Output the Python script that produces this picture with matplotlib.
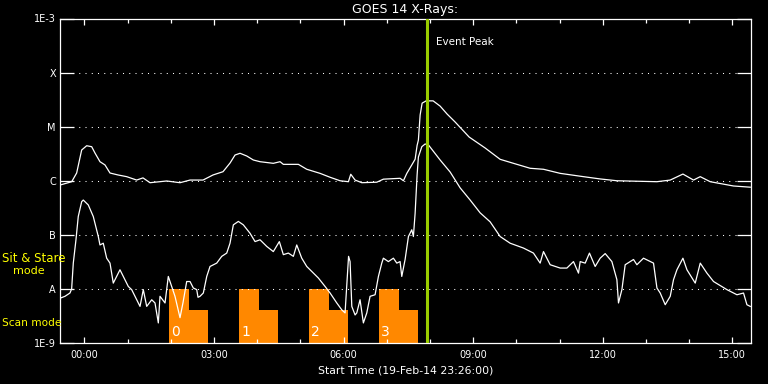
import matplotlib
matplotlib.use('Agg')
import matplotlib.pyplot as plt
from matplotlib.ticker import FixedLocator, NullLocator

# ---------------- data (time in hours from 2014-02-20 00:00 UT) ----------------
long_t = [-0.551, -0.296, -0.181, -0.065, 0.051, 0.167, 0.243, 0.359, 0.475, 0.591,
          0.776, 0.978, 1.209, 1.355, 1.517, 1.904, 2.212, 2.444, 2.745, 2.977,
          3.208, 3.371, 3.486, 3.602, 3.757, 3.910, 4.065, 4.373, 4.529, 4.605,
          4.953, 5.147, 5.455, 5.687, 5.918, 6.111, 6.166, 6.266, 6.421, 6.769,
          6.921, 7.308, 7.385, 7.464, 7.579, 7.656, 7.702, 7.732, 7.772, 7.818,
          7.911, 8.073, 8.235, 8.397, 8.582, 8.907, 9.278, 9.625, 9.933, 10.320, 10.628, 11.015,
          11.554, 11.941, 12.328, 13.255, 13.563, 13.857, 14.102, 14.258, 14.489,
          15.029, 15.416]
long_flux = [8.4e-7, 9.6e-7, 1.39e-6, 3.7e-6, 4.44e-6, 4.26e-6, 3.26e-6, 2.25e-6, 1.96e-6, 1.39e-6,
             1.28e-6, 1.19e-6, 1.03e-6, 1.13e-6, 9.2e-7, 9.9e-7, 9.2e-7, 1.03e-6, 1.03e-6, 1.28e-6,
             1.47e-6, 2.13e-6, 2.99e-6, 3.22e-6, 2.87e-6, 2.42e-6, 2.25e-6, 2.10e-6, 2.25e-6, 2.01e-6,
             2.01e-6, 1.63e-6, 1.37e-6, 1.16e-6, 1.0e-6, 9.6e-7, 1.32e-6, 1.03e-6, 9.2e-7, 9.4e-7,
             1.07e-6, 1.11e-6, 1.0e-6, 1.37e-6, 1.96e-6, 2.5e-6, 4.5e-6, 5.66e-6, 1.64e-5, 2.72e-5,
             3.0e-5, 3.0e-5, 2.40e-5, 1.71e-5, 1.22e-5, 6.43e-6, 4.03e-6, 2.49e-6, 2.10e-6, 1.70e-6, 1.63e-6, 1.37e-6,
             1.19e-6, 1.08e-6, 1.0e-6, 9.6e-7, 1.03e-6, 1.33e-6, 1.03e-6, 1.19e-6, 9.6e-7,
             8.0e-7, 7.6e-7]

short_t = [-0.551, -0.452, -0.336, -0.297, -0.259, -0.197, -0.144, -0.065, -0.028, 0.088,
           0.204, 0.320, 0.359, 0.435, 0.514, 0.591, 0.667, 0.783, 0.822, 0.938,
           1.015, 1.093, 1.170, 1.286, 1.362, 1.441, 1.557, 1.633, 1.710, 1.749,
           1.865, 1.941, 2.020, 2.096, 2.212, 2.282, 2.367, 2.444, 2.520, 2.599,
           2.629, 2.675, 2.752, 2.831, 2.907, 3.062, 3.178, 3.294, 3.370, 3.447,
           3.563, 3.678, 3.833, 3.950, 4.065, 4.221, 4.373, 4.512, 4.605, 4.721,
           4.837, 4.915, 5.031, 5.147, 5.300, 5.416, 5.571, 5.687, 5.842, 5.958,
           6.034, 6.115, 6.150, 6.190, 6.266, 6.305, 6.381, 6.458, 6.537, 6.613,
           6.729, 6.806, 6.884, 6.921, 7.037, 7.153, 7.232, 7.308, 7.347, 7.424,
           7.501, 7.579, 7.616, 7.656, 7.702, 7.732, 7.811, 7.887, 7.964, 8.235,
           8.467, 8.698, 8.930, 9.162, 9.393, 9.625, 9.856, 10.164, 10.396, 10.551, 10.628, 10.783, 11.015,
           11.170, 11.323, 11.439, 11.478, 11.594, 11.693, 11.825, 11.941, 12.057, 12.212,
           12.328, 12.365, 12.444, 12.520, 12.713, 12.791, 12.944, 13.176, 13.255, 13.331,
           13.447, 13.563, 13.639, 13.718, 13.857, 13.950, 14.142, 14.258, 14.413, 14.566,
           14.876, 15.108, 15.260, 15.339, 15.416]
short_flux = [6.8e-9, 7.3e-9, 8.4e-9, 1.0e-8, 3.0e-8, 8.1e-8, 2.18e-7, 4.1e-7, 4.4e-7, 3.57e-7,
              2.18e-7, 9.3e-8, 6.5e-8, 7.0e-8, 3.7e-8, 3.0e-8, 1.28e-8, 1.96e-8, 2.26e-8, 1.48e-8,
              1.11e-8, 9.7e-9, 7.3e-9, 4.75e-9, 9.7e-9, 4.75e-9, 6.3e-9, 5.5e-9, 2.35e-9, 7.3e-9,
              5.5e-9, 1.70e-8, 1.11e-8, 7.3e-9, 2.94e-9, 5.6e-9, 1.37e-8, 1.37e-8, 1.04e-8, 9.7e-9,
              7.0e-9, 7.3e-9, 8.4e-9, 1.70e-8, 2.6e-8, 3.0e-8, 4.0e-8, 4.6e-8, 7.0e-8, 1.53e-7,
              1.77e-7, 1.53e-7, 1.07e-7, 7.5e-8, 8.1e-8, 6.1e-8, 4.9e-8, 7.5e-8, 4.3e-8, 4.6e-8,
              4.0e-8, 6.5e-8, 3.7e-8, 2.6e-8, 1.96e-8, 1.59e-8, 1.11e-8, 8.4e-9, 5.5e-9, 4.1e-9,
              3.6e-9, 4.0e-8, 3.2e-8, 4.75e-9, 3.3e-9, 3.6e-9, 6.3e-9, 2.35e-9, 3.6e-9, 7.3e-9,
              7.8e-9, 1.70e-8, 3.0e-8, 3.7e-8, 3.2e-8, 3.7e-8, 3.0e-8, 3.2e-8, 1.70e-8, 3.5e-8,
              9.3e-8, 1.24e-7, 9.3e-8, 2.5e-7, 1.28e-6, 2.75e-6, 4.26e-6, 4.78e-6, 4.6e-6, 2.42e-6,
              1.45e-6, 7.4e-7, 4.4e-7, 2.55e-7, 1.74e-7, 9.3e-8, 7.0e-8, 5.7e-8, 4.6e-8, 3.0e-8, 4.9e-8, 2.8e-8, 2.43e-8,
              2.43e-8, 3.2e-8, 1.96e-8, 3.2e-8, 3.0e-8, 4.6e-8, 2.6e-8, 3.7e-8, 4.5e-8, 3.2e-8,
              1.48e-8, 5.5e-9, 9.7e-9, 2.8e-8, 3.5e-8, 2.8e-8, 3.7e-8, 3.0e-8, 1.04e-8, 8.4e-9,
              5.1e-9, 7.3e-9, 1.48e-8, 2.26e-8, 3.7e-8, 2.26e-8, 1.28e-8, 3.0e-8, 1.96e-8, 1.37e-8,
              9.7e-9, 7.8e-9, 8.4e-9, 5.1e-9, 4.75e-9]

start_hour = -34.0 / 60.0   # 23:26 on 19-Feb
end_hour = start_hour + 16.0
event_peak = 7.93

scan_start = [1.96, 3.58, 5.20, 6.82]
scan_labels = ['0', '1', '2', '3']
scan_tall_dur = 0.46
scan_short_dur = 0.44
scan_tall_top = 1.0e-8
scan_short_top = 4.1e-9

class_levels = [1e-9, 1e-8, 1e-7, 1e-6, 1e-5, 1e-4, 1e-3]
class_labels = ['1E-9', 'A', 'B', 'C', 'M', 'X', '1E-3']
grid_levels = [1e-8, 1e-7, 1e-6, 1e-5, 1e-4]
xtick_hours = [0, 3, 6, 9, 12, 15]
xtick_labels = ['00:00', '03:00', '06:00', '09:00', '12:00', '15:00']
minor_hours = [h for h in range(0, 16) if h % 3 != 0]

# ---------------- figure ----------------
fig = plt.figure(figsize=(7.68, 3.84), dpi=100, facecolor='black')
ax = fig.add_axes([60 / 768, 41 / 384, 691 / 768, 324.5 / 384], facecolor='black')
ax.set_yscale('log')
ax.set_xlim(start_hour, end_hour)
ax.set_ylim(1e-9, 1e-3)

orange = '#ff8800'
ax.bar(scan_start, [scan_tall_top - 1e-9] * len(scan_start), width=scan_tall_dur,
       bottom=1e-9, align='edge', color=orange, linewidth=0, zorder=1)
ax.bar([s + scan_tall_dur for s in scan_start], [scan_short_top - 1e-9] * len(scan_start),
       width=scan_short_dur, bottom=1e-9, align='edge', color=orange, linewidth=0, zorder=1)
for s, lbl in zip(scan_start, scan_labels):
    ax.text(s + 0.05, 1.6e-9, lbl, color='white', fontsize=10, ha='left', va='center', zorder=2)

for lev in grid_levels:
    ax.axhline(lev, color='white', lw=0.75, linestyle=(0, (1, 5)), zorder=1.5)

ax.plot(long_t, long_flux, color='white', lw=0.9, zorder=3)
ax.plot(short_t, short_flux, color='white', lw=0.9, zorder=3)

ax.axvline(event_peak, color='#9acd00', lw=2.2, zorder=4)
ax.text(event_peak + 0.2, 1.02e-3 / 10 ** 0.45, 'Event Peak', color='white', fontsize=7.5,
        ha='left', va='center', zorder=5)

# axes styling
for sp in ax.spines.values():
    sp.set_color('white')
    sp.set_linewidth(0.9)

ax.yaxis.set_major_locator(FixedLocator(class_levels))
ax.yaxis.set_minor_locator(NullLocator())
ax.set_yticklabels(class_labels)
ax.tick_params(axis='y', which='major', direction='in', length=10, width=0.9,
               colors='white', left=True, right=True, labelsize=7, pad=3)

ax.xaxis.set_major_locator(FixedLocator(xtick_hours))
ax.xaxis.set_minor_locator(FixedLocator(minor_hours))
ax.set_xticklabels(xtick_labels)
ax.tick_params(axis='x', which='major', direction='in', length=4.3, width=0.9,
               colors='white', bottom=True, top=True, labelsize=7, pad=5)
ax.tick_params(axis='x', which='minor', direction='in', length=2.9, width=0.9,
               colors='white', bottom=True, top=True)

ax.set_title('GOES 14 X-Rays:', color='white', fontsize=9, pad=4)
ax.set_xlabel('Start Time (19-Feb-14 23:26:00)', color='white', fontsize=7.8, labelpad=4)

yellow = '#ffff00'
fig.text(2 / 768, 1 - 259 / 384, 'Sit & Stare', color=yellow, fontsize=8.5, ha='left', va='center')
fig.text(13 / 768, 1 - 271 / 384, 'mode', color=yellow, fontsize=8, ha='left', va='center')
fig.text(2 / 768, 1 - 323 / 384, 'Scan mode', color=yellow, fontsize=7.6, ha='left', va='center')

fig.savefig('out.png', dpi=100, facecolor='black')
